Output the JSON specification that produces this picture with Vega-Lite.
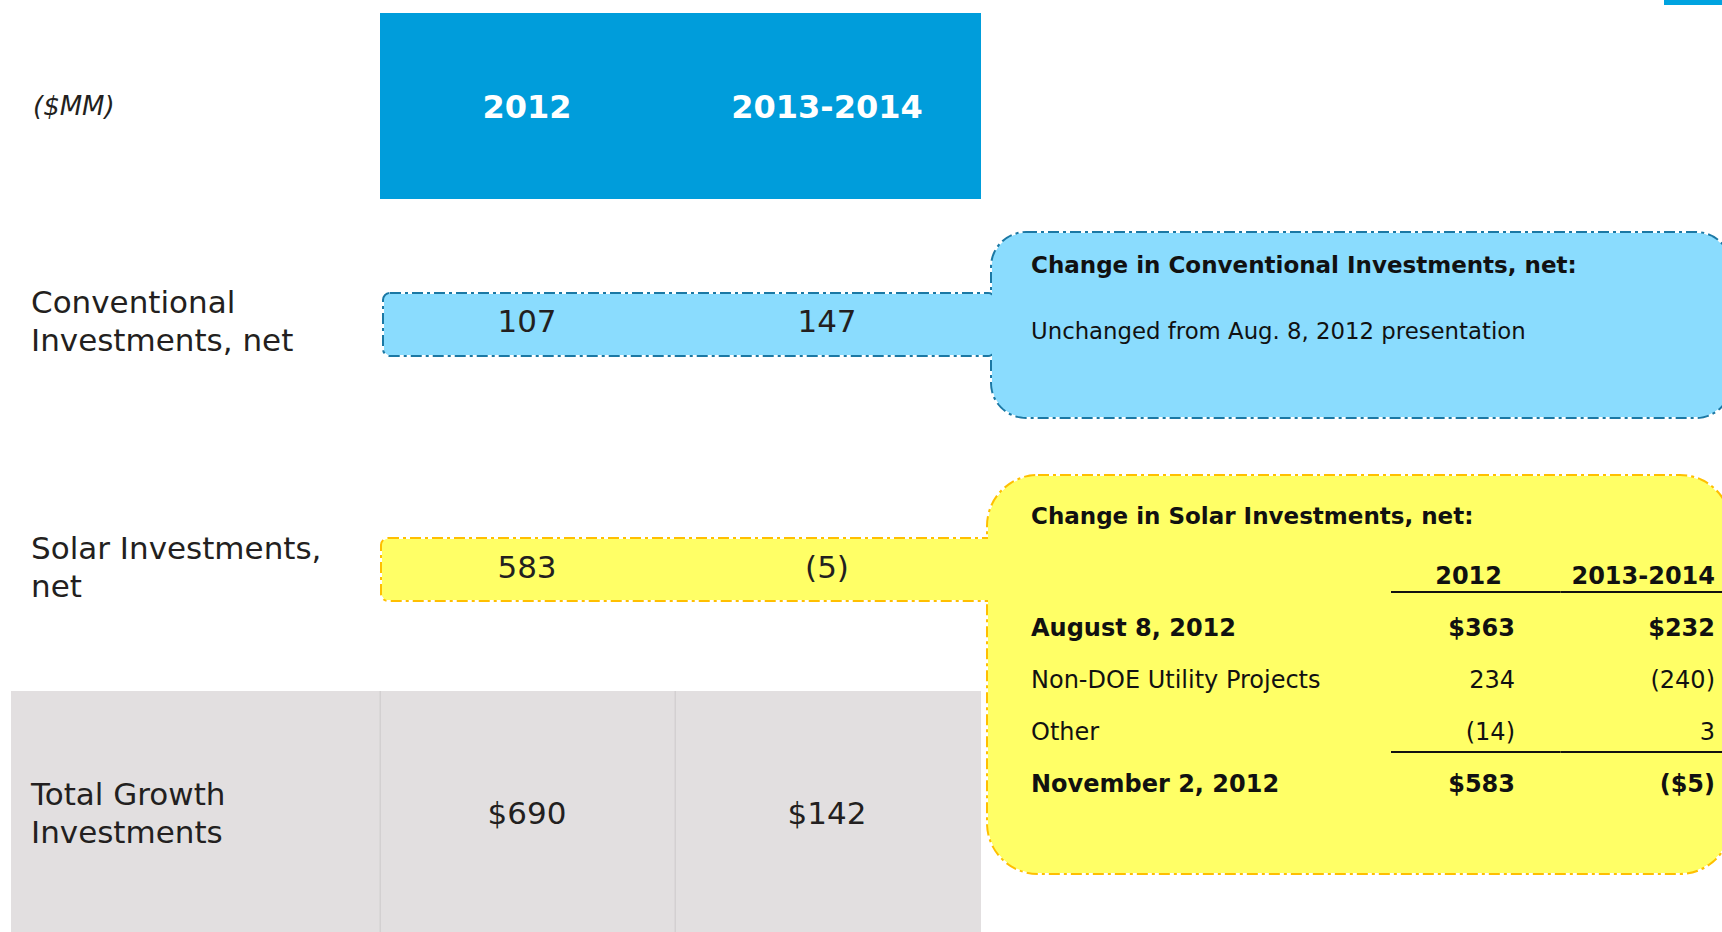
{
  "$schema": "https://vega.github.io/schema/vega-lite/v6.json",
  "width": 1722,
  "height": 932,
  "padding": 0,
  "autosize": {"type": "none"},
  "background": "#ffffff",
  "config": {
    "view": {"stroke": null},
    "axis": {"disable": true},
    "legend": {"disable": true},
    "text": {"font": "DejaVu Sans", "color": "#231f20", "baseline": "middle"}
  },
  "resolve": {"scale": {"x": "independent", "y": "independent"}},
  "layer": [
    {
      "data": {"values": [{"row": "Total Growth Investments", "part": "row"}]},
      "mark": {"type": "rect", "fill": "#e2dfe0"},
      "encoding": {
        "x": {"field": "part", "type": "nominal", "scale": {"type": "band", "domain": ["row"], "range": [11, 981], "paddingInner": 0, "paddingOuter": 0}},
        "y": {"field": "row", "type": "nominal", "scale": {"type": "band", "domain": ["Total Growth Investments"], "range": [691, 945], "paddingInner": 0, "paddingOuter": 0}}
      }
    },
    {
      "data": {"values": [{"row": "Total Growth Investments", "col": "2012"}, {"row": "Total Growth Investments", "col": "2013-2014"}]},
      "mark": {"type": "rect", "fill": "#d3d0d1"},
      "encoding": {
        "x": {"field": "col", "type": "nominal", "scale": {"type": "band", "domain": ["2012", "2013-2014"], "range": [379.5, 676], "paddingInner": 0.9949, "paddingOuter": 0}},
        "y": {"field": "row", "type": "nominal", "scale": {"type": "band", "domain": ["Total Growth Investments"], "range": [691, 945], "paddingInner": 0, "paddingOuter": 0}}
      }
    },
    {
      "data": {"values": [{"row": "header", "part": "header"}]},
      "mark": {"type": "rect", "fill": "#009ddb"},
      "encoding": {
        "x": {"field": "part", "type": "nominal", "scale": {"type": "band", "domain": ["header"], "range": [380, 981], "paddingInner": 0, "paddingOuter": 0}},
        "y": {"field": "row", "type": "nominal", "scale": {"type": "band", "domain": ["header"], "range": [13, 199], "paddingInner": 0, "paddingOuter": 0}}
      }
    },
    {
      "data": {"values": [{"row": "tab", "part": "tab"}]},
      "mark": {"type": "rect", "fill": "#00a3e0"},
      "encoding": {
        "x": {"field": "part", "type": "nominal", "scale": {"type": "band", "domain": ["tab"], "range": [1664, 1722], "paddingInner": 0, "paddingOuter": 0}},
        "y": {"field": "row", "type": "nominal", "scale": {"type": "band", "domain": ["tab"], "range": [0, 5], "paddingInner": 0, "paddingOuter": 0}}
      }
    },
    {
      "data": {"values": [{"topic": "Conventional Investments, net", "part": "strip"}]},
      "mark": {"type": "rect", "fill": "#8adcfe", "stroke": "#1b78a4", "strokeWidth": 4, "strokeDash": [11, 4, 3, 4], "cornerRadius": 6},
      "encoding": {
        "x": {"field": "part", "type": "nominal", "scale": {"type": "band", "domain": ["strip"], "range": [384, 994], "paddingInner": 0, "paddingOuter": 0}},
        "y": {"field": "topic", "type": "nominal", "scale": {"type": "band", "domain": ["Conventional Investments, net"], "range": [294, 355], "paddingInner": 0, "paddingOuter": 0}}
      }
    },
    {
      "data": {"values": [{"topic": "Conventional Investments, net", "part": "callout"}]},
      "mark": {"type": "rect", "fill": "#8adcfe", "stroke": "#1b78a4", "strokeWidth": 4, "strokeDash": [11, 4, 3, 4], "cornerRadius": 34},
      "encoding": {
        "x": {"field": "part", "type": "nominal", "scale": {"type": "band", "domain": ["callout"], "range": [992, 1730], "paddingInner": 0, "paddingOuter": 0}},
        "y": {"field": "topic", "type": "nominal", "scale": {"type": "band", "domain": ["Conventional Investments, net"], "range": [233, 417], "paddingInner": 0, "paddingOuter": 0}}
      }
    },
    {
      "data": {"values": [{"topic": "Conventional Investments, net", "part": "strip"}]},
      "mark": {"type": "rect", "fill": "#8adcfe", "strokeWidth": 0, "cornerRadius": 6},
      "encoding": {
        "x": {"field": "part", "type": "nominal", "scale": {"type": "band", "domain": ["strip"], "range": [384, 994], "paddingInner": 0, "paddingOuter": 0}},
        "y": {"field": "topic", "type": "nominal", "scale": {"type": "band", "domain": ["Conventional Investments, net"], "range": [294, 355], "paddingInner": 0, "paddingOuter": 0}}
      }
    },
    {
      "data": {"values": [{"topic": "Conventional Investments, net", "part": "callout"}]},
      "mark": {"type": "rect", "fill": "#8adcfe", "strokeWidth": 0, "cornerRadius": 34},
      "encoding": {
        "x": {"field": "part", "type": "nominal", "scale": {"type": "band", "domain": ["callout"], "range": [992, 1730], "paddingInner": 0, "paddingOuter": 0}},
        "y": {"field": "topic", "type": "nominal", "scale": {"type": "band", "domain": ["Conventional Investments, net"], "range": [233, 417], "paddingInner": 0, "paddingOuter": 0}}
      }
    },
    {
      "data": {"values": [{"topic": "Solar Investments, net", "part": "strip"}]},
      "mark": {"type": "rect", "fill": "#ffff66", "stroke": "#ffbf00", "strokeWidth": 4, "strokeDash": [11, 4, 3, 4], "cornerRadius": 6},
      "encoding": {
        "x": {"field": "part", "type": "nominal", "scale": {"type": "band", "domain": ["strip"], "range": [382, 994], "paddingInner": 0, "paddingOuter": 0}},
        "y": {"field": "topic", "type": "nominal", "scale": {"type": "band", "domain": ["Solar Investments, net"], "range": [539, 600], "paddingInner": 0, "paddingOuter": 0}}
      }
    },
    {
      "data": {"values": [{"topic": "Solar Investments, net", "part": "callout"}]},
      "mark": {"type": "rect", "fill": "#ffff66", "stroke": "#ffbf00", "strokeWidth": 4, "strokeDash": [11, 4, 3, 4], "cornerRadius": 50},
      "encoding": {
        "x": {"field": "part", "type": "nominal", "scale": {"type": "band", "domain": ["callout"], "range": [988, 1730], "paddingInner": 0, "paddingOuter": 0}},
        "y": {"field": "topic", "type": "nominal", "scale": {"type": "band", "domain": ["Solar Investments, net"], "range": [476, 873], "paddingInner": 0, "paddingOuter": 0}}
      }
    },
    {
      "data": {"values": [{"topic": "Solar Investments, net", "part": "strip"}]},
      "mark": {"type": "rect", "fill": "#ffff66", "strokeWidth": 0, "cornerRadius": 6},
      "encoding": {
        "x": {"field": "part", "type": "nominal", "scale": {"type": "band", "domain": ["strip"], "range": [382, 994], "paddingInner": 0, "paddingOuter": 0}},
        "y": {"field": "topic", "type": "nominal", "scale": {"type": "band", "domain": ["Solar Investments, net"], "range": [539, 600], "paddingInner": 0, "paddingOuter": 0}}
      }
    },
    {
      "data": {"values": [{"topic": "Solar Investments, net", "part": "callout"}]},
      "mark": {"type": "rect", "fill": "#ffff66", "strokeWidth": 0, "cornerRadius": 50},
      "encoding": {
        "x": {"field": "part", "type": "nominal", "scale": {"type": "band", "domain": ["callout"], "range": [988, 1730], "paddingInner": 0, "paddingOuter": 0}},
        "y": {"field": "topic", "type": "nominal", "scale": {"type": "band", "domain": ["Solar Investments, net"], "range": [476, 873], "paddingInner": 0, "paddingOuter": 0}}
      }
    },
    {
      "data": {"values": [
        {"line": "header", "col": "2012"}, {"line": "header", "col": "2013-2014"},
        {"line": "subtotal", "col": "2012"}, {"line": "subtotal", "col": "2013-2014"}
      ]},
      "mark": {"type": "rect", "fill": "#111111"},
      "encoding": {
        "x": {"field": "col", "type": "nominal", "scale": {"type": "band", "domain": ["2012", "2013-2014"], "range": [1391, 1730], "paddingInner": 0, "paddingOuter": 0}},
        "y": {"field": "line", "type": "nominal", "scale": {"type": "band", "domain": ["header", "subtotal"], "range": [591, 753], "paddingInner": 0.9875, "paddingOuter": 0}}
      }
    },
    {
      "data": {"values": [{"row": "header", "col": "label", "label": "($MM)"}]},
      "mark": {"type": "text", "align": "left", "fontSize": 26, "fontStyle": "italic"},
      "encoding": {
        "x": {"field": "col", "type": "nominal", "scale": {"type": "point", "domain": ["label"], "range": [33, 33]}},
        "y": {"field": "row", "type": "nominal", "scale": {"type": "point", "domain": ["header"], "range": [107, 107]}},
        "text": {"field": "label", "type": "nominal"}
      }
    },
    {
      "data": {"values": [
        {"row": "Conventional Investments, net", "col": "label", "label": "Conventional\nInvestments, net"},
        {"row": "Solar Investments, net", "col": "label", "label": "Solar Investments,\nnet"},
        {"row": "Total Growth Investments", "col": "label", "label": "Total Growth\nInvestments"}
      ]},
      "mark": {"type": "text", "align": "left", "fontSize": 31, "lineBreak": "\n", "lineHeight": 38},
      "encoding": {
        "x": {"field": "col", "type": "nominal", "scale": {"type": "point", "domain": ["label"], "range": [31, 31]}},
        "y": {"field": "row", "type": "nominal", "scale": {"type": "point", "domain": ["Conventional Investments, net", "Solar Investments, net", "Total Growth Investments"], "range": [304, 796], "padding": 0}},
        "text": {"field": "label", "type": "nominal"}
      }
    },
    {
      "data": {"values": [{"row": "header", "col": "2012"}, {"row": "header", "col": "2013-2014"}]},
      "mark": {"type": "text", "align": "center", "fontSize": 32, "fontWeight": "bold", "color": "#ffffff"},
      "encoding": {
        "x": {"field": "col", "type": "nominal", "scale": {"type": "point", "domain": ["2012", "2013-2014"], "range": [527, 827], "padding": 0}},
        "y": {"field": "row", "type": "nominal", "scale": {"type": "point", "domain": ["header"], "range": [108, 108]}},
        "text": {"field": "col", "type": "nominal"}
      }
    },
    {
      "data": {"values": [
        {"row": "Conventional Investments, net", "col": "2012", "value": "107"},
        {"row": "Conventional Investments, net", "col": "2013-2014", "value": "147"},
        {"row": "Solar Investments, net", "col": "2012", "value": "583"},
        {"row": "Solar Investments, net", "col": "2013-2014", "value": "(5)"},
        {"row": "Total Growth Investments", "col": "2012", "value": "$690"},
        {"row": "Total Growth Investments", "col": "2013-2014", "value": "$142"}
      ]},
      "mark": {"type": "text", "align": "center", "fontSize": 31},
      "encoding": {
        "x": {"field": "col", "type": "nominal", "scale": {"type": "point", "domain": ["2012", "2013-2014"], "range": [527, 827], "padding": 0}},
        "y": {"field": "row", "type": "nominal", "scale": {"type": "point", "domain": ["Conventional Investments, net", "Solar Investments, net", "Total Growth Investments"], "range": [323, 815], "padding": 0}},
        "text": {"field": "value", "type": "nominal"}
      }
    },
    {
      "data": {"values": [
        {"topic": "Conventional Investments, net", "part": "callout", "title": "Change in Conventional Investments, net:"},
        {"topic": "Solar Investments, net", "part": "callout", "title": "Change in Solar Investments, net:"}
      ]},
      "mark": {"type": "text", "align": "left", "fontSize": 23, "fontWeight": "bold", "color": "#111111"},
      "encoding": {
        "x": {"field": "part", "type": "nominal", "scale": {"type": "point", "domain": ["callout"], "range": [1031, 1031]}},
        "y": {"field": "topic", "type": "nominal", "scale": {"type": "point", "domain": ["Conventional Investments, net", "Solar Investments, net"], "range": [266, 517], "padding": 0}},
        "text": {"field": "title", "type": "nominal"}
      }
    },
    {
      "data": {"values": [{"topic": "Conventional Investments, net", "part": "callout", "note": "Unchanged from Aug. 8, 2012 presentation"}]},
      "mark": {"type": "text", "align": "left", "fontSize": 22.8, "color": "#111111"},
      "encoding": {
        "x": {"field": "part", "type": "nominal", "scale": {"type": "point", "domain": ["callout"], "range": [1031, 1031]}},
        "y": {"field": "topic", "type": "nominal", "scale": {"type": "point", "domain": ["Conventional Investments, net"], "range": [332, 332]}},
        "text": {"field": "note", "type": "nominal"}
      }
    },
    {
      "data": {"values": [{"line": "header", "col": "2012"}, {"line": "header", "col": "2013-2014"}]},
      "mark": {"type": "text", "align": "right", "fontSize": 24, "fontWeight": "bold", "color": "#111111"},
      "encoding": {
        "x": {"field": "col", "type": "nominal", "scale": {"type": "point", "domain": ["2012", "2013-2014"], "range": [1502, 1715], "padding": 0}},
        "y": {"field": "line", "type": "nominal", "scale": {"type": "point", "domain": ["header", "August 8, 2012", "Non-DOE Utility Projects", "Other", "November 2, 2012"], "range": [577, 785], "padding": 0}},
        "text": {"field": "col", "type": "nominal"}
      }
    },
    {
      "data": {"values": [
        {"line": "August 8, 2012", "col": "label"},
        {"line": "November 2, 2012", "col": "label"}
      ]},
      "mark": {"type": "text", "align": "left", "fontSize": 24, "fontWeight": "bold", "color": "#111111"},
      "encoding": {
        "x": {"field": "col", "type": "nominal", "scale": {"type": "point", "domain": ["label"], "range": [1031, 1031]}},
        "y": {"field": "line", "type": "nominal", "scale": {"type": "point", "domain": ["header", "August 8, 2012", "Non-DOE Utility Projects", "Other", "November 2, 2012"], "range": [577, 785], "padding": 0}},
        "text": {"field": "line", "type": "nominal"}
      }
    },
    {
      "data": {"values": [
        {"line": "Non-DOE Utility Projects", "col": "label"},
        {"line": "Other", "col": "label"}
      ]},
      "mark": {"type": "text", "align": "left", "fontSize": 24, "color": "#111111"},
      "encoding": {
        "x": {"field": "col", "type": "nominal", "scale": {"type": "point", "domain": ["label"], "range": [1031, 1031]}},
        "y": {"field": "line", "type": "nominal", "scale": {"type": "point", "domain": ["header", "August 8, 2012", "Non-DOE Utility Projects", "Other", "November 2, 2012"], "range": [577, 785], "padding": 0}},
        "text": {"field": "line", "type": "nominal"}
      }
    },
    {
      "data": {"values": [
        {"line": "August 8, 2012", "col": "2012", "value": "$363"},
        {"line": "August 8, 2012", "col": "2013-2014", "value": "$232"},
        {"line": "November 2, 2012", "col": "2012", "value": "$583"},
        {"line": "November 2, 2012", "col": "2013-2014", "value": "($5)"}
      ]},
      "mark": {"type": "text", "align": "right", "fontSize": 24, "fontWeight": "bold", "color": "#111111"},
      "encoding": {
        "x": {"field": "col", "type": "nominal", "scale": {"type": "point", "domain": ["2012", "2013-2014"], "range": [1515, 1715], "padding": 0}},
        "y": {"field": "line", "type": "nominal", "scale": {"type": "point", "domain": ["header", "August 8, 2012", "Non-DOE Utility Projects", "Other", "November 2, 2012"], "range": [577, 785], "padding": 0}},
        "text": {"field": "value", "type": "nominal"}
      }
    },
    {
      "data": {"values": [
        {"line": "Non-DOE Utility Projects", "col": "2012", "value": "234\u00a0"},
        {"line": "Non-DOE Utility Projects", "col": "2013-2014", "value": "(240)"},
        {"line": "Other", "col": "2012", "value": "(14)"},
        {"line": "Other", "col": "2013-2014", "value": "3\u00a0"}
      ]},
      "mark": {"type": "text", "align": "right", "fontSize": 24, "color": "#111111"},
      "encoding": {
        "x": {"field": "col", "type": "nominal", "scale": {"type": "point", "domain": ["2012", "2013-2014"], "range": [1515, 1715], "padding": 0}},
        "y": {"field": "line", "type": "nominal", "scale": {"type": "point", "domain": ["header", "August 8, 2012", "Non-DOE Utility Projects", "Other", "November 2, 2012"], "range": [577, 785], "padding": 0}},
        "text": {"field": "value", "type": "nominal"}
      }
    }
  ]
}
